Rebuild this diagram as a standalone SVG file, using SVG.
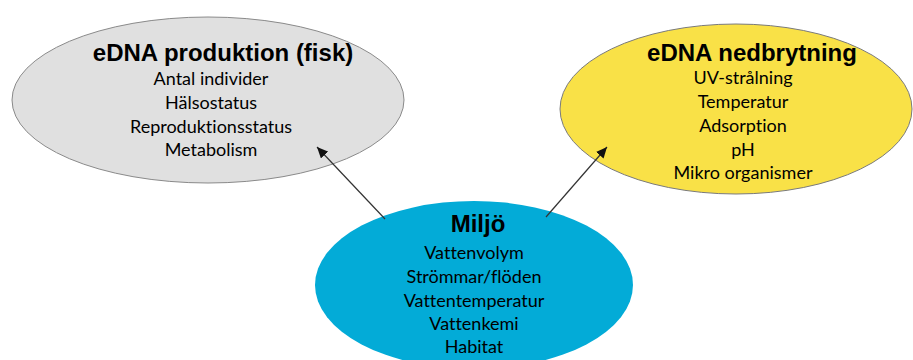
<svg xmlns="http://www.w3.org/2000/svg" width="913" height="360" viewBox="0 0 913 360">
<defs>
<style>
.title{font-family:"Liberation Sans",Arial,sans-serif;font-weight:bold;font-size:24px;fill:#000;text-anchor:middle}
.body{font-family:Lato,"Liberation Sans",sans-serif;font-size:18px;fill:#000;text-anchor:middle;font-variant-ligatures:none;font-feature-settings:"liga" 0}
.conn{stroke:#333;stroke-width:1.2;fill:none}
</style>
<marker id="arr" markerUnits="userSpaceOnUse" markerWidth="12" markerHeight="10" refX="11" refY="5" orient="auto">
<path d="M0,0 L11,5 L0,10 Z" fill="#111"/>
</marker>
</defs>
<rect width="913" height="360" fill="#fff"/>
<g id="produktion">
<ellipse cx="208" cy="100" rx="196" ry="83" fill="#e0e0e0" stroke="#8a8a8a" stroke-width="1"/>
<text class="title" x="223" y="61">eDNA produktion (fisk)</text>
<text class="body" x="211" y="85">Antal individer</text>
<text class="body" x="211" y="109">Hälsostatus</text>
<text class="body" x="211" y="133">Reproduktionsstatus</text>
<text class="body" x="211" y="156">Metabolism</text>
</g>
<g id="nedbrytning">
<ellipse cx="736" cy="109" rx="176" ry="85" fill="#f9e147" stroke="#7a7a7a" stroke-width="1"/>
<text class="title" x="752" y="61">eDNA nedbrytning</text>
<text class="body" x="743" y="84">UV-strålning</text>
<text class="body" x="743" y="108">Temperatur</text>
<text class="body" x="743" y="132">Adsorption</text>
<text class="body" x="743" y="156">pH</text>
<text class="body" x="743" y="179">Mikro organismer</text>
</g>
<g id="miljo">
<ellipse cx="474" cy="285" rx="159" ry="84" fill="#03abd7"/>
<text class="title" x="478" y="232">Miljö</text>
<text class="body" x="474" y="259">Vattenvolym</text>
<text class="body" x="474" y="283">Strömmar/flöden</text>
<text class="body" x="474" y="307">Vattentemperatur</text>
<text class="body" x="474" y="330">Vattenkemi</text>
<text class="body" x="474" y="353">Habitat</text>
</g>
<g id="connectors">
<line class="conn" x1="385" y1="219" x2="317" y2="147" marker-end="url(#arr)"/>
<line class="conn" x1="546" y1="217" x2="607" y2="147" marker-end="url(#arr)"/>
</g>
</svg>
